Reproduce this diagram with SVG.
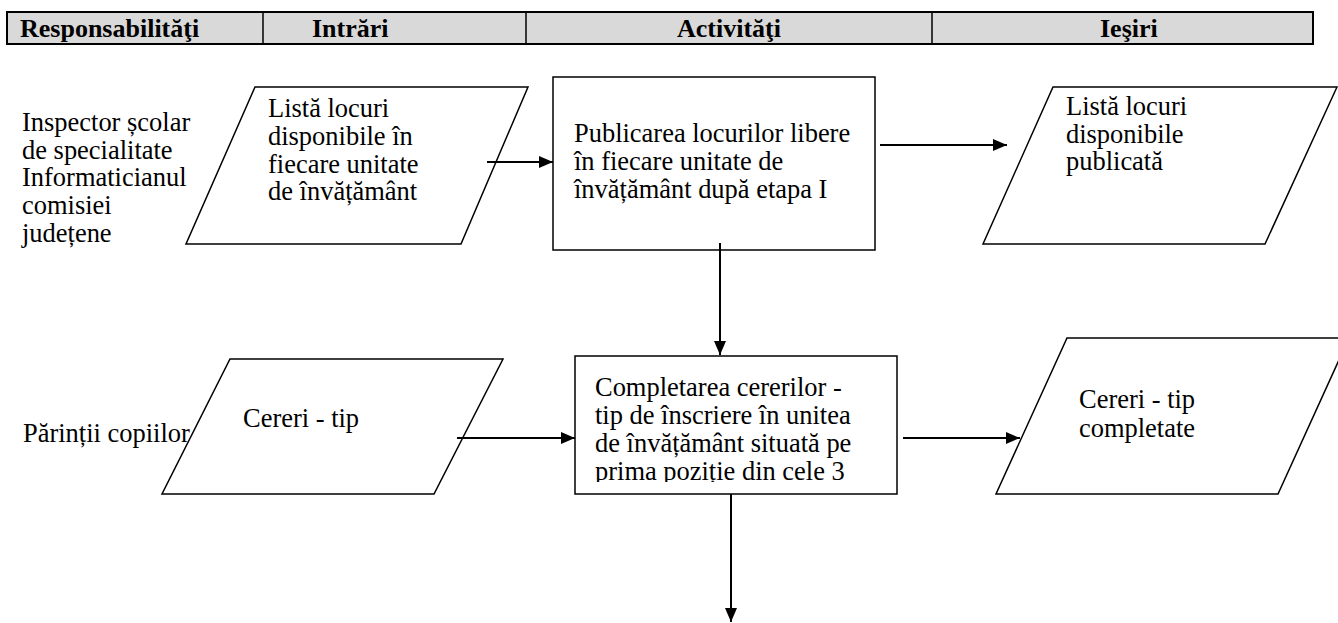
<svg xmlns="http://www.w3.org/2000/svg" width="1338" height="623" viewBox="0 0 1338 623">
<defs>
<style>
.hdr{font-family:"Liberation Serif","Times New Roman",serif;font-weight:bold;font-size:26px;fill:#000}
.t{font-family:"Liberation Serif","Times New Roman",serif;font-size:28px;fill:#000}
.shape{fill:#fff;stroke:#000;stroke-width:1.5}
.conn{fill:none;stroke:#000;stroke-width:2}
</style>
<marker id="arr" viewBox="0 0 14 12" refX="14" refY="6" markerWidth="14" markerHeight="12" markerUnits="userSpaceOnUse" orient="auto">
<path d="M0,0 L14,6 L0,12 Z" fill="#000"/>
</marker>
<clipPath id="clipR2"><rect x="576" y="357" width="320" height="125"/></clipPath>
</defs>
<rect width="1338" height="623" fill="#fff"/>
<g id="header">
<rect x="7" y="12" width="1306" height="32" fill="#d9d9d9" stroke="#000" stroke-width="2"/>
<line x1="263" y1="12" x2="263" y2="44" stroke="#000" stroke-width="1.5"/>
<line x1="526" y1="12" x2="526" y2="44" stroke="#000" stroke-width="1.5"/>
<line x1="932" y1="12" x2="932" y2="44" stroke="#000" stroke-width="1.5"/>
<text class="hdr" x="20" y="37">Responsabilităţi</text>
<text class="hdr" x="312" y="37">Intrări</text>
<text class="hdr" x="677" y="37">Activităţi</text>
<text class="hdr" x="1100" y="37">Ieşiri</text>
</g>
<g id="resp1">
<text class="t" transform="translate(22 0) scale(0.945 1)" x="0" y="131">Inspector școlar<tspan x="0" y="159">de specialitate</tspan><tspan x="0" y="186">Informaticianul</tspan><tspan x="0" y="214">comisiei</tspan><tspan x="0" y="242">județene</tspan></text>
</g>
<g id="resp2">
<text class="t" transform="translate(23 0) scale(0.945 1)" x="0" y="442">Părinții copiilor</text>
</g>
<g id="in1">
<polygon class="shape" points="255,87 528,87 461,244 186,244"/>
<text class="t" transform="translate(268 0) scale(0.945 1)" x="0" y="117">Listă locuri<tspan x="0" y="145">disponibile în</tspan><tspan x="0" y="173">fiecare unitate</tspan><tspan x="0" y="200">de învățământ</tspan></text>
</g>
<g id="act1">
<rect class="shape" x="553" y="77" width="322" height="173"/>
<text class="t" transform="translate(574 0) scale(0.945 1)" x="0" y="142">Publicarea locurilor libere<tspan x="0" y="170">în fiecare unitate de</tspan><tspan x="0" y="198">învățământ după etapa I</tspan></text>
</g>
<g id="out1">
<polygon class="shape" points="1053,87 1337,87 1265,244 983,244"/>
<text class="t" transform="translate(1066 0) scale(0.945 1)" x="0" y="115">Listă locuri<tspan x="0" y="143">disponibile</tspan><tspan x="0" y="170">publicată</tspan></text>
</g>
<g id="in2">
<polygon class="shape" points="230,359 503,359 434,494 162,494"/>
<text class="t" transform="translate(243 0) scale(0.945 1)" x="0" y="427">Cereri - tip</text>
</g>
<g id="act2">
<rect class="shape" x="575" y="356" width="322" height="138"/>
<g clip-path="url(#clipR2)">
<text class="t" transform="translate(595 0) scale(0.945 1)" x="0" y="396">Completarea cererilor -<tspan x="0" y="424">tip de înscriere în unitea</tspan><tspan x="0" y="452">de învățământ situată pe</tspan><tspan x="0" y="480">prima poziție din cele 3</tspan></text>
</g>
</g>
<g id="out2">
<polygon class="shape" points="1067,338 1349,338 1278,494 996,494"/>
<text class="t" transform="translate(1079 0) scale(0.945 1)" x="0" y="408">Cereri - tip<tspan x="0" y="437">completate</tspan></text>
</g>
<g id="connectors">
<line class="conn" x1="487" y1="162" x2="553" y2="162" marker-end="url(#arr)"/>
<line class="conn" x1="880" y1="145" x2="1007" y2="145" marker-end="url(#arr)"/>
<line class="conn" x1="720" y1="243" x2="720" y2="355" marker-end="url(#arr)"/>
<line class="conn" x1="457" y1="438" x2="575" y2="438" marker-end="url(#arr)"/>
<line class="conn" x1="903" y1="438" x2="1020" y2="438" marker-end="url(#arr)"/>
<line class="conn" x1="731" y1="494" x2="731" y2="622" marker-end="url(#arr)"/>
</g>
</svg>
